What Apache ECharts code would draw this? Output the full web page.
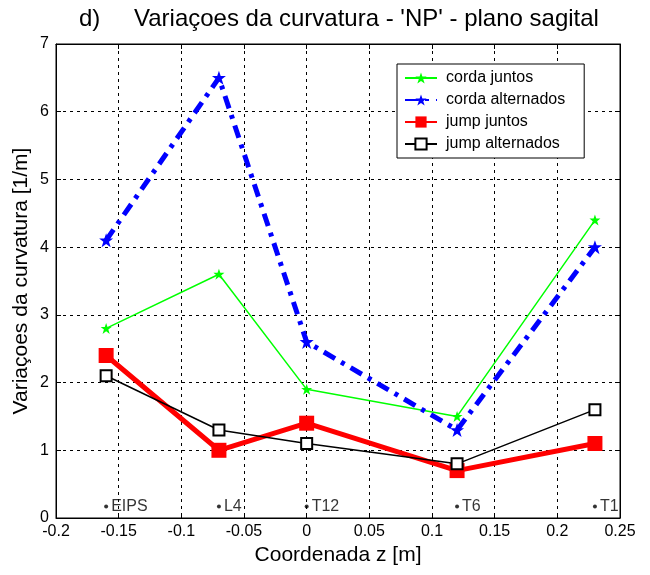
<!DOCTYPE html>
<html>
<head>
<meta charset="utf-8">
<script src="https://cdn.jsdelivr.net/npm/echarts@6/dist/echarts.min.js"></script>
<style>html,body{margin:0;padding:0;background:#fff}#c{width:650px;height:575px}</style>
</head>
<body>
<div id="c"></div>
<script>
const xPositions = [-0.16, -0.07, 0, 0.12, 0.23];
const cordaJuntos = [2.8, 3.6, 1.9, 1.5, 4.4];
const cordaAlternados = [4.1, 6.5, 2.6, 1.3, 4.0];
const jumpJuntos = [2.4, 1.0, 1.4, 0.7, 1.1];
const jumpAlternados = [2.1, 1.3, 1.1, 0.8, 1.6];
const vertebraLabels = ['EIPS', 'L4', 'T12', 'T6', 'T1'];
const vertebraY = 0.17;
const seriesNames = ['corda juntos', 'corda alternados', 'jump juntos', 'jump alternados'];

const FONT = 'Liberation Sans, Arial, sans-serif';
const pair = v => v.map((y, i) => [xPositions[i], y]);
const starPath = 'path://M0,-10 L2.5,-3 L10,-3 L4,1.5 L6.5,9 L0,4.5 L-6.5,9 L-4,1.5 L-10,-3 L-2.5,-3 Z';

const chart = echarts.init(document.getElementById('c'), null, {renderer: 'canvas'});
const grid = {left: 56, right: 30, top: 44, bottom: 57, show: true, borderColor: '#000', borderWidth: 1, backgroundColor: '#fff'};
const gridLine = {show: true, lineStyle: {color: '#000', type: [3, 4], width: 1}};

chart.setOption({
  backgroundColor: '#fff',
  animation: false,
  title: [
    {text: 'd)', left: 74, top: 2, textStyle: {fontFamily: FONT, fontSize: 24, fontWeight: 'normal', color: '#000'}},
    {text: "Variaçoes da curvatura - 'NP' - plano sagital", left: 129, top: 2, textStyle: {fontFamily: FONT, fontSize: 24, fontWeight: 'normal', color: '#000'}}
  ],
  grid: grid,
  legend: {
    data: seriesNames,
    orient: 'vertical',
    left: 397, top: 64,
    padding: [6, 19, 6, 7],
    itemGap: 6,
    itemWidth: 32, itemHeight: 14,
    backgroundColor: '#fff',
    borderColor: '#000', borderWidth: 1, borderRadius: 0,
    textStyle: {fontFamily: FONT, fontSize: 16, color: '#000', padding: [0, 0, 0, 4]}
  },
  xAxis: [{
    type: 'value', min: -0.2, max: 0.25, interval: 0.05,
    name: 'Coordenada z [m]', nameLocation: 'middle', nameGap: 25,
    nameTextStyle: {fontFamily: FONT, fontSize: 21, color: '#000'},
    axisLine: {show: true, onZero: false, lineStyle: {color: '#000'}},
    axisTick: {show: true, inside: true, length: 5, lineStyle: {color: '#000'}},
    axisLabel: {fontFamily: FONT, fontSize: 16, color: '#000', margin: 6},
    splitLine: gridLine
  }, {
    type: 'value', min: -0.2, max: 0.25, interval: 0.05, position: 'top',
    axisLine: {show: true, onZero: false, lineStyle: {color: '#000'}},
    axisTick: {show: true, inside: true, length: 5, lineStyle: {color: '#000'}},
    axisLabel: {show: false}, splitLine: {show: false}
  }],
  yAxis: [{
    type: 'value', min: 0, max: 7, interval: 1,
    name: 'Variaçoes da curvatura [1/m]', nameLocation: 'middle', nameGap: 24,
    nameMoveOverlap: false,
    nameTextStyle: {fontFamily: FONT, fontSize: 21, color: '#000'},
    axisLine: {show: true, onZero: false, lineStyle: {color: '#000'}},
    axisTick: {show: true, inside: true, length: 5, lineStyle: {color: '#000'}},
    axisLabel: {fontFamily: FONT, fontSize: 16, color: '#000', margin: 7},
    splitLine: gridLine
  }, {
    type: 'value', min: 0, max: 7, interval: 1, position: 'right',
    axisLine: {show: true, onZero: false, lineStyle: {color: '#000'}},
    axisTick: {show: true, inside: true, length: 5, lineStyle: {color: '#000'}},
    axisLabel: {show: false}, splitLine: {show: false}
  }],
  series: [
    {
      name: seriesNames[0], type: 'line', data: pair(cordaJuntos), z: 3,
      symbol: starPath, symbolSize: 11, showAllSymbol: true,
      lineStyle: {color: '#00ff00', width: 1.5},
      itemStyle: {color: '#00ff00'}
    },
    {
      name: seriesNames[1], type: 'line', data: pair(cordaAlternados), z: 4,
      symbol: starPath, symbolSize: 14,
      lineStyle: {color: '#0000ff', width: 5, type: [13, 7, 4, 7]},
      itemStyle: {color: '#0000ff'}
    },
    {
      name: seriesNames[2], type: 'line', data: pair(jumpJuntos), z: 5,
      symbol: 'rect', symbolSize: 15,
      lineStyle: {color: '#ff0000', width: 5},
      itemStyle: {color: '#ff0000'}
    },
    {
      name: seriesNames[3], type: 'line', data: pair(jumpAlternados), z: 6,
      symbol: 'emptyRect', symbolSize: 11,
      lineStyle: {color: '#000', width: 1.5},
      itemStyle: {color: '#000', borderColor: '#000', borderWidth: 2}
    },
    {
      name: 'vertebras', type: 'scatter', z: 7,
      data: xPositions.map((x, i) => ({value: [x, vertebraY], name: vertebraLabels[i]})),
      symbol: 'circle', symbolSize: 4,
      itemStyle: {color: '#000'},
      label: {show: true, position: 'right', distance: 3, formatter: p => p.name, fontFamily: FONT, fontSize: 16, color: '#000'}
    }
  ]
});
</script>
</body>
</html>
